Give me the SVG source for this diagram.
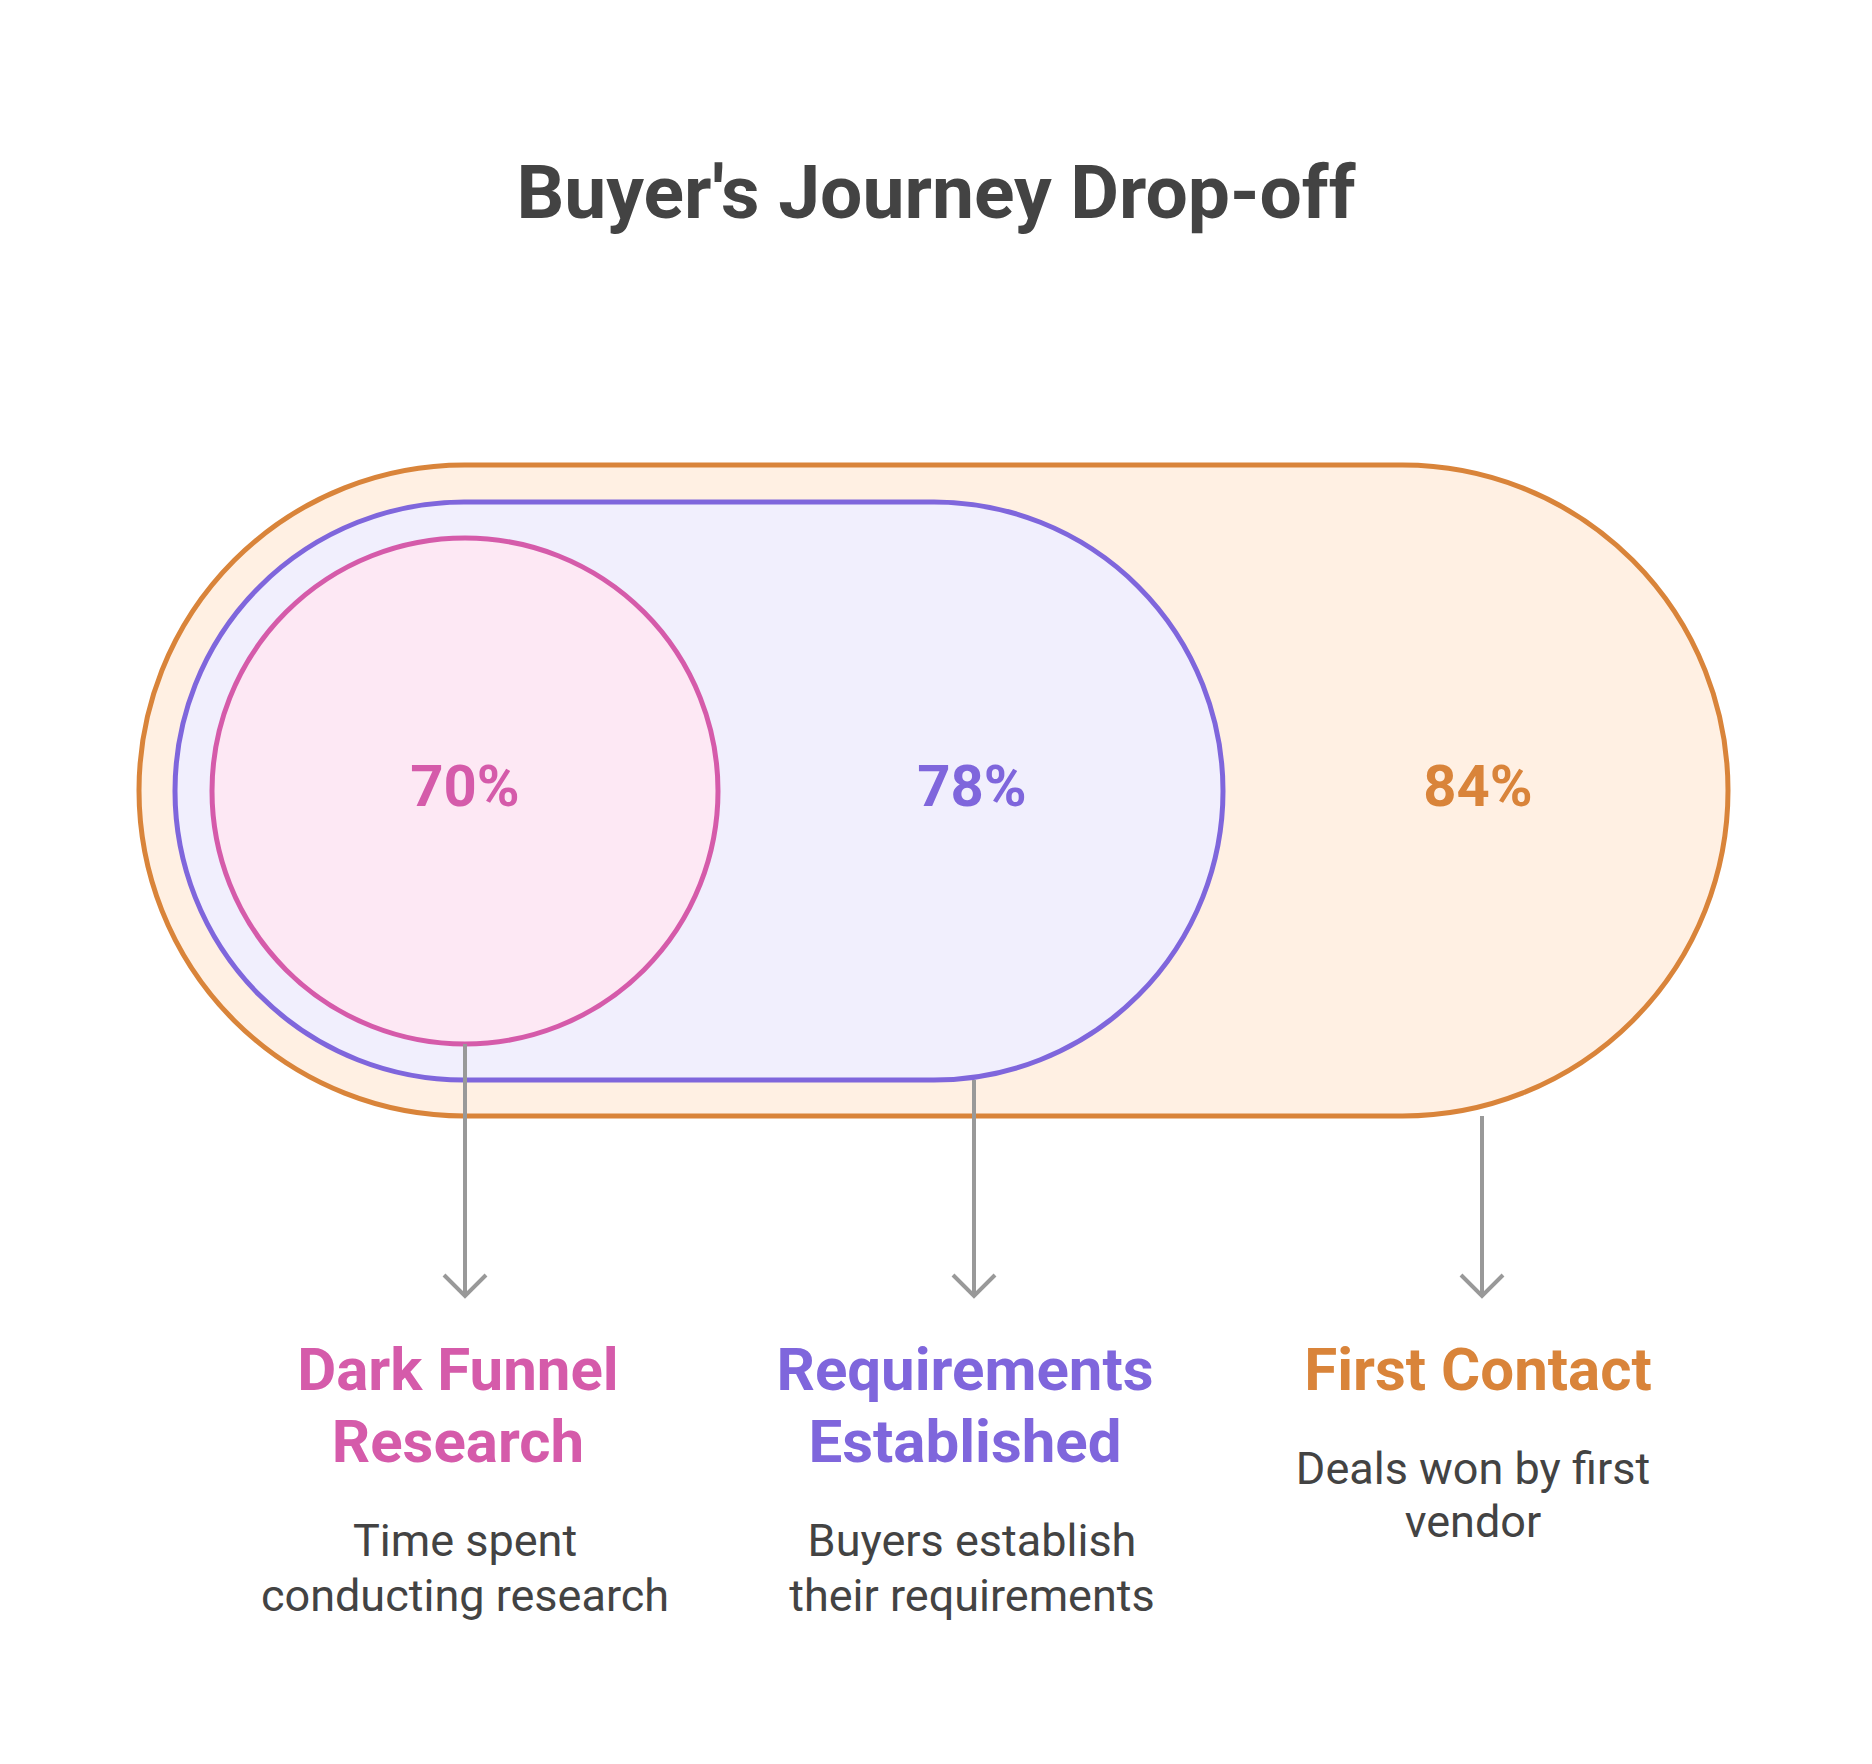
<svg xmlns="http://www.w3.org/2000/svg" width="1872" height="1764" viewBox="0 0 1872 1764">
<style>
text{font-family:Roboto,"Liberation Sans",sans-serif;text-anchor:middle}
.t{font-weight:bold;font-size:75px;fill:#434343}
.p{font-weight:bold;font-size:58px}
.h{font-weight:bold;font-size:60px}
.d{font-size:45px;fill:#434343}
.c{stroke:#999;stroke-width:4;fill:none}
</style>
<rect width="1872" height="1764" fill="#fff"/>
<g transform="translate(-5,-4)">
<text class="t" x="941" y="222">Buyer's Journey Drop-off</text>
<g id="outer"><rect x="144" y="469" width="1589" height="651" rx="325.5" fill="#FFF0E3" stroke="#D9843A" stroke-width="5"/><text class="p" x="1483" y="810" fill="#D9843A">84%</text></g>
<g id="middle"><rect x="180" y="506" width="1048" height="578" rx="289" fill="#F1EFFD" stroke="#7F66DC" stroke-width="5"/><text class="p" x="977" y="810" fill="#7F66DC">78%</text></g>
<g id="inner"><circle cx="470" cy="795" r="253" fill="#FDE8F4" stroke="#D55BAA" stroke-width="5"/><text class="p" x="470" y="810" fill="#D55BAA">70%</text></g>
<g id="connectors">
<path class="c" d="M470 1048 V1300 M449 1279 L470 1300 L491 1279"/>
<path class="c" d="M979 1084 V1300 M958 1279 L979 1300 L1000 1279"/>
<path class="c" d="M1487 1120 V1300 M1466 1279 L1487 1300 L1508 1279"/>
</g>
<g id="label1"><text class="h" x="463" y="1394" fill="#D55BAA">Dark Funnel</text><text class="h" x="463" y="1466" fill="#D55BAA">Research</text><text class="d" x="470" y="1560">Time spent</text><text class="d" x="470" y="1615">conducting research</text></g>
<g id="label2"><text class="h" x="970" y="1394" fill="#7F66DC">Requirements</text><text class="h" x="970" y="1466" fill="#7F66DC">Established</text><text class="d" x="977" y="1560">Buyers establish</text><text class="d" x="977" y="1615">their requirements</text></g>
<g id="label3"><text class="h" x="1483" y="1394" fill="#D9843A">First Contact</text><text class="d" x="1478" y="1488">Deals won by first</text><text class="d" x="1478" y="1541">vendor</text></g>
</g>
</svg>
